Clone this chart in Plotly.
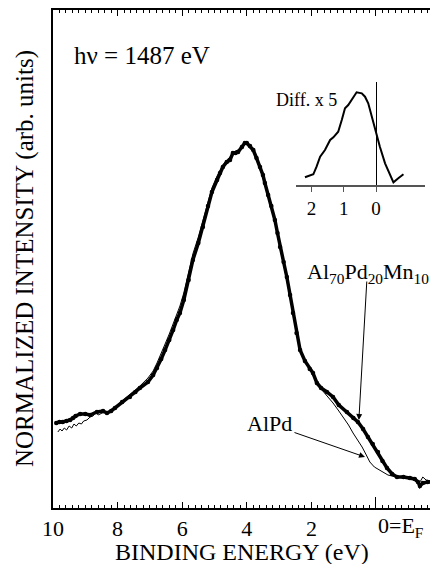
import plotly.graph_objects as go

# ---------------- data ----------------
# Al70Pd20Mn10 (thick curve): binding energy (eV) and intensity (arb. units)
mn_energy = [9.90, 9.80, 9.70, 9.58, 9.47, 9.38, 9.30, 9.16, 9.00, 8.85, 8.64, 8.45, 8.33, 8.20,
             8.08, 7.86, 7.62, 7.45, 7.31, 7.06, 6.90, 6.78, 6.65, 6.53, 6.40, 6.28, 6.17,
             6.07, 5.95, 5.80, 5.67, 5.50, 5.36, 5.20, 5.08, 4.92, 4.83, 4.74, 4.62, 4.52,
             4.43, 4.35, 4.27, 4.15, 4.06, 4.00, 3.90, 3.80, 3.70, 3.59, 3.50, 3.44, 3.34,
             3.24, 3.13, 3.05, 2.97, 2.86, 2.76, 2.66, 2.57, 2.46, 2.35, 2.20, 2.05, 1.95,
             1.83, 1.70, 1.52, 1.33, 1.15, 0.90, 0.70, 0.56, 0.40, 0.25, 0.10, -0.06, -0.20,
             -0.34, -0.50, -0.65, -0.85, -1.05, -1.20, -1.30, -1.36, -1.45, -1.60, -1.75, -1.89]
mn_intensity = [85, 86, 86, 87, 88, 90, 92, 94, 94, 93, 96, 97, 95, 97,
                100, 106, 111, 116, 120, 126, 133, 140, 149, 158, 168, 178, 188,
                195, 208, 228, 248, 265, 281, 302, 316, 328, 335, 341, 346, 348,
                355, 355, 356, 361, 365, 365, 362, 358, 350, 341, 333, 325, 313,
                302, 288, 275, 261, 246, 231, 213, 195, 175, 158, 147, 139, 135,
                125, 120, 116, 111, 103, 96, 90, 86, 79, 71, 64, 56, 47,
                40, 34, 31, 31, 30, 29, 26, 22, 25, 26, 26, 26]

# AlPd (thin curve)
alpd_energy = [9.85, 9.78, 9.72, 9.65, 9.58, 9.50, 9.42, 9.35, 9.28, 9.20, 9.12, 9.05, 8.95,
               8.85, 8.76, 8.68, 8.60, 8.48, 8.33, 8.20, 8.08, 7.86, 7.62, 7.45, 7.31, 7.06,
               6.90, 6.78, 6.65, 6.53, 6.40, 6.28, 6.17, 6.07, 5.95, 5.80, 5.67, 5.50, 5.36,
               5.20, 5.08, 4.92, 4.83, 4.74, 4.62, 4.52, 4.43, 4.35, 4.27, 4.15, 4.06, 4.00,
               3.90, 3.80, 3.70, 3.59, 3.50, 3.44, 3.34, 3.24, 3.13, 3.05, 2.97, 2.86, 2.76,
               2.66, 2.57, 2.46, 2.35, 2.20, 2.05, 1.95, 1.83, 1.70, 1.60, 1.50, 1.33, 1.15,
               1.02, 0.85, 0.71, 0.55, 0.43, 0.30, 0.19, 0.05, -0.12, -0.25, -0.37, -0.50,
               -0.65, -0.85, -1.05, -1.20, -1.30, -1.38, -1.45, -1.55, -1.70, -1.89]
alpd_intensity = [76, 79, 77, 80, 78, 82, 80, 84, 82, 85, 84, 87, 88,
                  91, 92, 96, 93, 95, 96, 98, 101, 107, 113, 118, 122, 130,
                  137, 145, 154, 164, 174, 184, 194, 202, 215, 235, 254, 271, 287,
                  307, 320, 332, 338, 343, 348, 351, 355, 357, 358, 362, 364, 364,
                  361, 357, 349, 339, 330, 323, 311, 300, 286, 273, 259, 244, 229,
                  211, 194, 174, 157, 146, 138, 133, 124, 119, 116, 111, 105, 97,
                  91, 83, 75, 67, 61, 53, 46, 41, 38, 35, 33, 32,
                  31, 31, 31, 28, 24, 27, 31, 28, 27, 27]

# Inset: difference spectrum x 5
diff_energy = [2.20, 1.94, 1.84, 1.73, 1.58, 1.42, 1.32, 1.17, 1.06, 0.96, 0.86, 0.75, 0.60,
               0.44, 0.34, 0.24, 0.13, -0.02, -0.12, -0.28, -0.43, -0.54, -0.69, -0.85]
diff_value = [0.077, 0.107, 0.183, 0.283, 0.350, 0.450, 0.477, 0.533, 0.650, 0.767, 0.800,
              0.850, 0.927, 0.917, 0.883, 0.817, 0.683, 0.483, 0.383, 0.217, 0.100, 0.027,
              0.067, 0.107]

main_tickvals = [10, 8, 6, 4, 2, 0]
main_ticktext = ["10", "8", "6", "4", "2", " "]
inset_tickvals = [2, 1, 0]
inset_ticktext = ["2", "1", "0"]

# ---------------- figure ----------------
FONT = "Times New Roman, Liberation Serif, Tinos, DejaVu Serif, Noto Serif, serif"
OFF = 8                      # default page body margin of the html page
WIN_W, WIN_H = 438, 564
W, H = WIN_W - OFF, WIN_H - OFF
# plot area in window pixels: left 53, right 438, top 10, bottom 508
L, R, T, B = 53 - OFF, 0, 10 - OFF, H - (508 - OFF)
PW, PH = 438 - 53, 508 - 10


def px(xp):
    return (xp - 53) / PW


def py(yp):
    return (508 - yp) / PH


fig = go.Figure()

fig.add_trace(go.Scatter(x=alpd_energy, y=alpd_intensity, mode="lines",
                         line=dict(color="black", width=1), showlegend=False,
                         xaxis="x", yaxis="y"))
fig.add_trace(go.Scatter(x=mn_energy, y=mn_intensity, mode="lines+markers",
                         line=dict(color="black", width=3.5),
                         marker=dict(color="black", size=4.5), showlegend=False,
                         xaxis="x", yaxis="y"))
fig.add_trace(go.Scatter(x=diff_energy, y=diff_value, mode="lines",
                         line=dict(color="black", width=2), showlegend=False,
                         xaxis="x2", yaxis="y2"))
# invisible helper trace so the overlay axis carrying the long E_F tick is drawn
fig.add_trace(go.Scatter(x=[0], y=[0], mode="markers", marker=dict(opacity=0),
                         showlegend=False, hoverinfo="skip", xaxis="x3", yaxis="y"))

fig.update_layout(
    width=W, height=H,
    margin=dict(l=L, r=R, t=T, b=B, pad=0, autoexpand=False),
    paper_bgcolor="white", plot_bgcolor="white",
    font=dict(family=FONT, color="black", size=20),
    xaxis=dict(range=[10, -1.92], domain=[0, 1], showgrid=False, zeroline=False,
               showline=True, linecolor="black", linewidth=1.5, mirror="ticks",
               ticks="inside", ticklen=6, tickwidth=1, tickcolor="black",
               tickvals=main_tickvals, ticktext=main_ticktext,
               tickfont=dict(size=22, family=FONT),
               minor=dict(dtick=0.2, ticks="inside", ticklen=3, tickcolor="black",
                          tickwidth=1, showgrid=False)),
    xaxis3=dict(range=[10, -1.92], overlaying="x", anchor="y", showgrid=False,
                zeroline=False, showline=False, ticks="inside", ticklen=11,
                tickwidth=1.2, tickcolor="black", tickvals=[0],
                showticklabels=False),
    yaxis=dict(range=[0, 498], domain=[0, 1], showgrid=False, zeroline=False,
               showline=True, linecolor="black", linewidth=1.5, mirror=False,
               ticks="", showticklabels=False),
    xaxis2=dict(domain=[px(296), px(425)], range=[2.477, -1.517], anchor="y2",
                showgrid=False, zeroline=True, zerolinecolor="black", zerolinewidth=1,
                showline=True, linecolor="#555555", linewidth=1.5,
                ticks="outside", ticklen=5, tickcolor="#555555", tickwidth=1,
                tickvals=inset_tickvals, ticktext=inset_ticktext,
                tickfont=dict(size=19, family=FONT)),
    yaxis2=dict(domain=[py(185), py(82)], range=[0, 1.03], anchor="x2",
                showgrid=False, zeroline=False, showline=False, ticks="",
                showticklabels=False),
)

ann = [
    dict(text="NORMALIZED INTENSITY (arb. units)", textangle=-90, x=px(25), y=py(259),
         xref="paper", yref="paper", xanchor="center", yanchor="middle",
         showarrow=False, font=dict(size=25, family=FONT)),
    dict(text="BINDING ENERGY (eV)", x=px(242), y=py(552), xref="paper", yref="paper",
         xanchor="center", yanchor="middle", showarrow=False, font=dict(size=24, family=FONT)),
    dict(text="0=E<sub>F</sub>", x=0, y=py(527), xref="x", yref="paper",
         xanchor="left", yanchor="middle", xshift=0, showarrow=False,
         font=dict(size=22, family=FONT)),
    dict(text="h\u03bd = 1487 eV", x=px(72), y=py(55), xref="paper", yref="paper",
         xanchor="left", yanchor="middle", showarrow=False, font=dict(size=25, family=FONT)),
    dict(text="Diff. x 5", x=px(274), y=py(100), xref="paper", yref="paper",
         xanchor="left", yanchor="middle", showarrow=False, font=dict(size=18, family=FONT)),
    dict(text="Al<sub>70</sub>Pd<sub>20</sub>Mn<sub>10</sub>", x=px(368), y=py(273),
         xref="paper", yref="paper", xanchor="center", yanchor="middle",
         showarrow=False, font=dict(size=22, family=FONT)),
    dict(text="AlPd", x=px(269), y=py(423), xref="paper", yref="paper",
         xanchor="center", yanchor="middle", showarrow=False, font=dict(size=22, family=FONT)),
    # arrows
    dict(text="", x=0.53, y=88, xref="x", yref="y", ax=8, ay=-140, axref="pixel",
         ayref="pixel", showarrow=True, arrowhead=2, arrowsize=1.2, arrowwidth=1,
         arrowcolor="black", standoff=0),
    dict(text="", x=0.34, y=51, xref="x", yref="y", ax=-72, ay=-25, axref="pixel",
         ayref="pixel", showarrow=True, arrowhead=2, arrowsize=1.2, arrowwidth=1,
         arrowcolor="black", standoff=0),
]
fig.update_layout(annotations=ann)

fig.write_html("out.html")
